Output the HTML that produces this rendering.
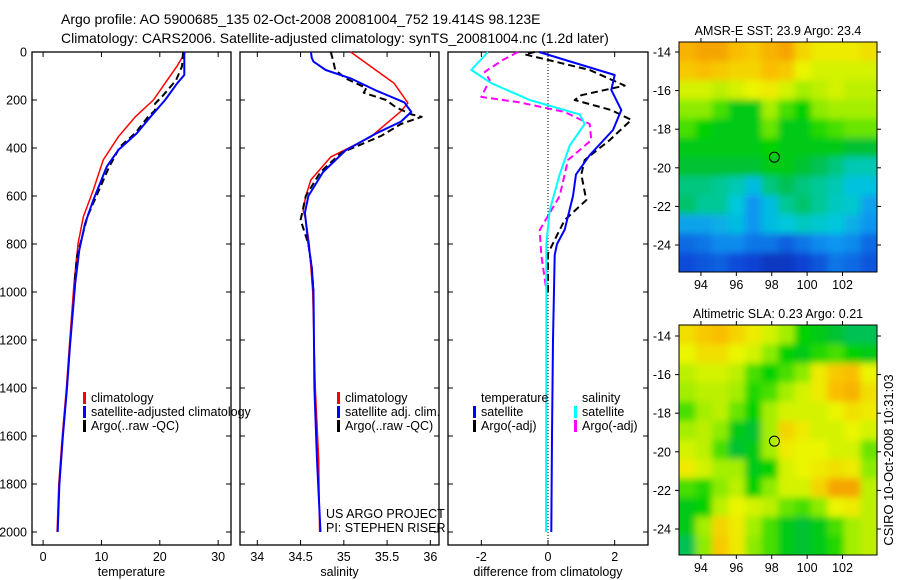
<!DOCTYPE html>
<html><head><meta charset="utf-8"><style>
html,body{margin:0;padding:0;background:#fff;}
svg{display:block;font-family:"Liberation Sans",sans-serif;}
</style></head><body>
<svg id="chart" width="900" height="580" viewBox="0 0 900 580">
<text x="61" y="24" font-size="14">Argo profile: AO 5900685_135 02-Oct-2008 20081004_752 19.414S 98.123E</text>
<text x="61" y="43" font-size="14">Climatology: CARS2006. Satellite-adjusted climatology: synTS_20081004.nc (1.2d later)</text>
<g id="panels"></g>
<g id="maps"></g>
<text transform="translate(893,460) rotate(-90)" text-anchor="middle" font-size="13">CSIRO 10-Oct-2008 10:31:03</text>
</svg>
<script>
// ---------- data ----------
const depthTicks = [0,200,400,600,800,1000,1200,1400,1600,1800,2000];
const tempTicks = [0,10,20,30];
const salTicks = [34,34.5,35,35.5,36];
const diffTicks = [-2,0,2];

const tClimDepth = [0,61,130,200,270,353,450,575,686,797,964,1229,1400,1600,1800,2000];
const tClim      = [24.4,22.9,20.9,18.9,15.8,12.9,10.3,8.6,6.9,6.0,5.3,4.5,4.0,3.3,2.7,2.4];
const tSatDepth  = [0,96,130,200,270,338,408,478,617,714,825,964,1229,1400,1600,1800,2000];
const tSat       = [24.2,24.2,23,20.9,18.4,16.1,12.9,10.9,8.6,7.2,6.2,5.5,4.6,4.1,3.4,2.8,2.5];
const tArgoDepth = [0,60,117,180,215,243,270,338,394,480,686,853,964];
const tArgo      = [24.0,23.8,22.8,20.6,19.2,19.2,18.0,15.8,13.2,11.3,7.6,5.8,5.4];

const sClimDepth = [0,130,212,247,354,437,533,600,660,700,800,1000,1400,1700,2000];
const sClim      = [35.08,35.58,35.74,35.66,35.31,34.85,34.62,34.56,34.53,34.56,34.6,34.64,34.67,34.71,34.72];
const sSatDepth  = [0,25,40,75,110,160,210,250,290,340,410,500,600,670,800,900,1000,1400,1700,2000];
const sSat       = [34.62,34.63,34.65,34.79,35.08,35.37,35.7,35.78,35.66,35.37,35.02,34.76,34.59,34.55,34.59,34.63,34.65,34.66,34.69,34.73];
const sArgoDepth = [0,40,75,110,150,170,200,230,260,270,300,350,420,500,600,700,800,900,1000];
const sArgo      = [34.85,34.88,34.9,35.02,35.26,35.23,35.49,35.6,35.78,35.9,35.66,35.43,34.97,34.73,34.56,34.5,34.59,34.63,34.65];

const dTSatDepth = [0,96,158,242,325,430,510,600,740,800,846,1200,1600,2000];
const dTSat      = [-0.27,2.0,1.9,2.2,1.95,1.25,0.84,0.75,0.5,0.27,0.2,0.15,0.12,0.1];
const dTArgoDepth= [0,10,33,75,140,180,200,242,283,367,450,510,617,700,783,840,1000];
const dTArgo     = [-0.4,-0.7,0,1.25,2.3,1.0,0.8,1.9,2.5,1.85,1.1,1.0,1.15,0.5,0.2,0,0];
const dSSatDepth = [0,75,130,200,260,300,390,510,660,800,1200,2000];
const dSSat      = [-1.8,-2.3,-1.7,-0.55,0.95,1.1,0.65,0.35,0.05,-0.05,-0.05,-0.06];
const dSArgoDepth= [0,33,83,117,187,210,250,300,367,450,600,742,846,990];
const dSArgo     = [-0.9,-1.35,-1.9,-1.75,-2.0,-0.85,0.5,1.25,1.3,0.6,0.35,-0.25,-0.2,-0.05];

const mapLonTicks = [94,96,98,100,102];
const mapLatTicks = [-14,-16,-18,-20,-22,-24];
const sstGrid = [
[.80,.82,.82,.78,.76,.80,.82,.74,.70,.70,.70,.72],
[.76,.78,.76,.74,.74,.78,.76,.68,.66,.66,.66,.66],
[.66,.66,.64,.66,.68,.70,.66,.62,.64,.66,.64,.64],
[.60,.60,.56,.50,.50,.62,.56,.52,.60,.62,.62,.62],
[.56,.52,.50,.50,.50,.58,.50,.50,.54,.56,.58,.58],
[.50,.50,.50,.50,.50,.52,.50,.50,.50,.50,.48,.48],
[.48,.48,.48,.48,.48,.50,.50,.48,.46,.44,.41,.41],
[.44,.44,.43,.41,.36,.44,.46,.44,.43,.41,.37,.37],
[.45,.43,.43,.38,.30,.36,.43,.45,.43,.40,.39,.32],
[.32,.32,.34,.36,.30,.36,.38,.40,.39,.38,.34,.30],
[.22,.24,.28,.28,.24,.24,.20,.24,.28,.30,.28,.22],
[.16,.18,.20,.16,.14,.10,.10,.14,.18,.24,.22,.18]];
const slaGrid = [
[.72,.76,.78,.74,.70,.66,.62,.52,.50,.48,.46,.46],
[.68,.72,.72,.68,.66,.60,.52,.50,.54,.56,.52,.50],
[.64,.66,.66,.64,.56,.52,.56,.60,.70,.76,.78,.68],
[.62,.64,.64,.62,.54,.56,.62,.66,.70,.78,.80,.72],
[.56,.62,.64,.58,.52,.62,.66,.66,.66,.68,.72,.70],
[.62,.64,.60,.50,.48,.62,.74,.70,.66,.66,.68,.66],
[.66,.64,.56,.48,.50,.62,.70,.68,.68,.66,.66,.58],
[.70,.66,.62,.62,.50,.52,.66,.68,.70,.72,.70,.60],
[.56,.54,.60,.64,.52,.60,.66,.66,.74,.82,.82,.64],
[.50,.52,.64,.68,.66,.64,.58,.56,.60,.68,.70,.64],
[.50,.62,.74,.70,.62,.56,.50,.48,.50,.56,.62,.64],
[.46,.60,.76,.70,.60,.56,.50,.48,.50,.54,.62,.64]];
const argoLon = 98.15, argoLat = -19.45;

// ---------- helpers ----------
const NS="http://www.w3.org/2000/svg";
function mk(tag, attrs, parent){const e=document.createElementNS(NS,tag);for(const k in attrs)e.setAttribute(k,attrs[k]);parent.appendChild(e);return e;}
const yD = d => 52 + d*0.24;
const panelsG = document.getElementById('panels');

function panel(name, x0, x1, xmin, xmax, xticks, fmt, xlabel, showY){
  const sx = v => x0 + (v-xmin)/(xmax-xmin)*(x1-x0);
  const g = mk('g',{},panelsG);
  
  
  const fr = mk('rect',{x:x0,y:52,width:x1-x0,height:493,fill:'none',stroke:'#000','stroke-width':1.3},g);
  
  
  depthTicks.forEach(d=>{
    mk('line',{x1:x0,x2:x0+5,y1:yD(d),y2:yD(d),stroke:'#000'},g);
    mk('line',{x1:x1-5,x2:x1,y1:yD(d),y2:yD(d),stroke:'#000'},g);
    if(showY){
      const t=mk('text',{x:x0-5,y:yD(d)+4.5,'text-anchor':'end','font-size':12.5},g);
      t.textContent=d;
      
      
    }
  });
  xticks.forEach(v=>{
    mk('line',{x1:sx(v),x2:sx(v),y1:52,y2:57,stroke:'#000'},g);
    mk('line',{x1:sx(v),x2:sx(v),y1:540,y2:545,stroke:'#000'},g);
    const t=mk('text',{x:sx(v),y:561,'text-anchor':'middle','font-size':12.5},g);
    t.textContent=fmt(v);
    
    
  });
  const xl=mk('text',{x:(x0+x1)/2,y:576,'text-anchor':'middle','font-size':12.5},g);
  xl.textContent=xlabel;
  
  
  return {g,sx};
}
function series(p, name, depths, vals, color, dashed, w){
  const pts = depths.map((d,i)=>p.sx(vals[i]).toFixed(1)+','+yD(d).toFixed(1)).join(' ');
  const l = mk('polyline',{points:pts,fill:'none',stroke:color,'stroke-width':w||2,'stroke-linejoin':'round'},p.g);
  if(dashed) l.setAttribute('stroke-dasharray','7,4');
  
  
}
function legend(g, x, y, color, text){
  mk('rect',{x:x,y:y-10,width:3,height:12,fill:color},g);
  const t=mk('text',{x:x+8,y:y,'font-size':12.5},g);
  t.textContent=text;
  
  
}

// panel 1
const p1 = panel('temperature-panel',32,231,-1.9,32.2,tempTicks,v=>v,'temperature',true);
series(p1,'temp-climatology-line',tClimDepth,tClim,'#f00',false,1.5);
series(p1,'temp-argo-line',tArgoDepth,tArgo,'#000',true,2);
series(p1,'temp-satellite-line',tSatDepth,tSat,'#00f',false,2);
legend(p1.g,83,402,'#f00','climatology');
legend(p1.g,83,416,'#00f','satellite-adjusted climatology');
legend(p1.g,83,430,'#000','Argo(..raw -QC)');

// panel 2
const p2 = panel('salinity-panel',240,439,33.8,36.1,salTicks,v=>v,'salinity',false);
series(p2,'sal-climatology-line',sClimDepth,sClim,'#f00',false,1.5);
series(p2,'sal-argo-line',sArgoDepth,sArgo,'#000',true,2);
series(p2,'sal-satellite-line',sSatDepth,sSat,'#00f',false,2);
legend(p2.g,337,402,'#f00','climatology');
legend(p2.g,337,416,'#00f','satellite adj. clim.');
legend(p2.g,337,430,'#000','Argo(..raw -QC)');
[['US ARGO PROJECT',518],['PI: STEPHEN RISER',532]].forEach(a=>{
  const t=mk('text',{x:326,y:a[1],'font-size':12.5},p2.g);
  t.textContent=a[0];
  
  
});

// panel 3
const p3 = panel('difference-panel',448,648,-3,3,diffTicks,v=>v,'difference from climatology',false);
mk('line',{x1:p3.sx(0),x2:p3.sx(0),y1:52,y2:545,stroke:'#000','stroke-dasharray':'1,2'},p3.g);
series(p3,'diff-temp-argo-line',dTArgoDepth,dTArgo,'#000',true,2);
series(p3,'diff-sal-argo-line',dSArgoDepth,dSArgo,'#f0f',true,2);
series(p3,'diff-temp-satellite-line',dTSatDepth,dTSat,'#00f',false,2);
series(p3,'diff-sal-satellite-line',dSSatDepth,dSSat,'#0ff',false,2);
[['temperature',481,402],['salinity',582,402]].forEach(a=>{
  const t=mk('text',{x:a[1],y:a[2],'font-size':12.5},p3.g);
  t.textContent=a[0];
  
  
});
legend(p3.g,473,416,'#00f','satellite');
legend(p3.g,473,430,'#000','Argo(-adj)');
legend(p3.g,574,416,'#0ff','satellite');
legend(p3.g,574,430,'#f0f','Argo(-adj)');

// ---------- maps ----------
const stops=[[0,[8,24,150]],[0.15,[16,70,215]],[0.3,[16,150,240]],[0.38,[0,200,220]],[0.43,[0,200,150]],[0.47,[0,190,60]],[0.52,[0,210,0]],[0.6,[140,235,0]],[0.68,[235,245,0]],[0.78,[250,190,0]],[0.88,[240,128,0]],[1,[220,60,0]]];
function cmap(v){
  for(let i=1;i<stops.length;i++){ if(v<=stops[i][0]){const a=stops[i-1],b=stops[i];const t=(v-a[0])/(b[0]-a[0]);
    return 'rgb('+a[1].map((c,k)=>Math.round(c+(b[1][k]-c)*t)).join(',')+')';}}
  return 'rgb(220,60,0)';
}
const mapsG=document.getElementById('maps');
const defs=mk('defs',{},mapsG);
const blur=mk('filter',{id:'bl',x:'-10%',y:'-10%',width:'120%',height:'120%'},defs);
mk('feGaussianBlur',{stdDeviation:3.5},blur);
function drawMap(name, grid, top, title, lat14y){
  const x0=679,x1=877,y0=top,y1=top+230;
  const lonMin=92.76, lonMax=102.97+(877-858)/19.4;
  const sx=v=>x0+(v-lonMin)/(lonMax-lonMin)*(x1-x0);
  const sy=v=>lat14y+(-14-v)*19.3;
  const g=mk('g',{},mapsG);
  
  
  const cp=mk('clipPath',{id:'cp'+top},defs);
  mk('rect',{x:x0,y:y0,width:x1-x0,height:y1-y0},cp);
  const cg=mk('g',{'clip-path':'url(#cp'+top+')'},g);
  const bg=mk('g',{filter:'url(#bl)'},cg);
  const rows=grid.length, cols=grid[0].length, cw=(x1-x0)/cols, ch=(y1-y0)/rows;
  grid.forEach((row,r)=>row.forEach((v,c)=>{
    let x=x0+c*cw, y=y0+r*ch, w=cw+0.6, h=ch+0.6;
    if(c===0){x-=20;w+=20;} if(c===cols-1){w+=20;}
    if(r===0){y-=20;h+=20;} if(r===rows-1){h+=20;}
    const cell=mk('rect',{x:x,y:y,width:w,height:h,fill:cmap(v)},bg);
    
    
  }));
  mk('rect',{x:x0,y:y0,width:x1-x0,height:y1-y0,fill:'none',stroke:'#000','stroke-width':1},g);
  mapLonTicks.forEach(v=>{
    mk('line',{x1:sx(v),x2:sx(v),y1:y0-4,y2:y0,stroke:'#000'},g);
    mk('line',{x1:sx(v),x2:sx(v),y1:y1,y2:y1+4,stroke:'#000'},g);
    const t=mk('text',{x:sx(v),y:y1+17,'text-anchor':'middle','font-size':12.5},g);
    t.textContent=v;
    
    
  });
  mapLatTicks.forEach(v=>{
    mk('line',{x1:x0-4,x2:x0,y1:sy(v),y2:sy(v),stroke:'#000'},g);
    mk('line',{x1:x1,x2:x1+4,y1:sy(v),y2:sy(v),stroke:'#000'},g);
    const t=mk('text',{x:x0-8,y:sy(v)+4.5,'text-anchor':'end','font-size':12.5},g);
    t.textContent=v;
    
    
  });
  const tt=mk('text',{x:(x0+x1)/2,y:y0-7,'text-anchor':'middle','font-size':12.5},g);
  tt.textContent=title;
  
  
  const m=mk('circle',{cx:sx(argoLon),cy:sy(argoLat),r:5,fill:'none',stroke:'#000','stroke-width':1},g);
  
  
}
drawMap('sst-map',sstGrid,42,'AMSR-E SST: 23.9 Argo: 23.4',52);
drawMap('sla-map',slaGrid,325,'Altimetric SLA: 0.23 Argo: 0.21',336);
</script>
</body></html>
